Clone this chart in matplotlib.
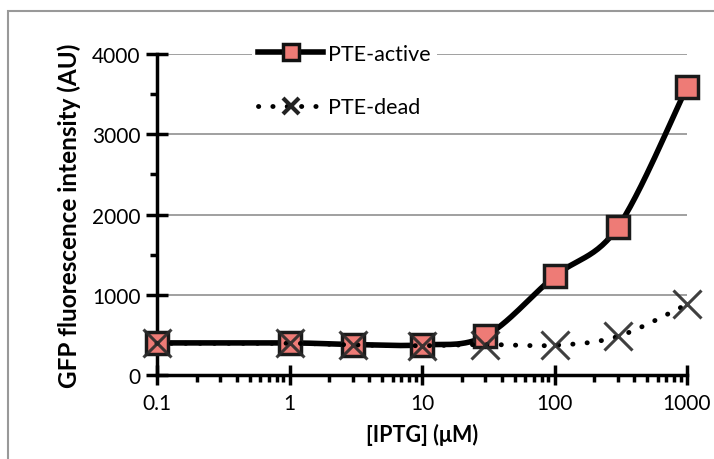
import numpy as np
import matplotlib
matplotlib.use("Agg")
import matplotlib.pyplot as plt
from matplotlib.patches import Rectangle
from matplotlib.ticker import LogLocator, FixedLocator, FixedFormatter, NullFormatter, MultipleLocator

plt.rcParams['font.family'] = ['Lato', 'DejaVu Sans']

iptg = [0.1, 1, 3, 10, 30, 100, 300, 1000]
pte_active = [400, 400, 380, 375, 485, 1230, 1840, 3590]
pte_dead = [395, 395, 375, 365, 380, 370, 480, 880]
xtick_vals = [0.1, 1, 10, 100, 1000]
xtick_labels = ["0.1", "1", "10", "100", "1000"]
ytick_vals = [0, 1000, 2000, 3000, 4000]


def smooth(xs, ys, n=30):
    # Catmull-Rom style smoothing in log-x space (like spreadsheet "smoothed line")
    lx = np.log10(xs)
    y = np.asarray(ys, float)
    px, py = [], []
    for i in range(len(lx) - 1):
        p0 = (lx[max(i - 1, 0)], y[max(i - 1, 0)])
        p1 = (lx[i], y[i])
        p2 = (lx[i + 1], y[i + 1])
        p3 = (lx[min(i + 2, len(lx) - 1)], y[min(i + 2, len(lx) - 1)])
        c1 = (p1[0] + (p2[0] - p0[0]) / 6, p1[1] + (p2[1] - p0[1]) / 6)
        c2 = (p2[0] - (p3[0] - p1[0]) / 6, p2[1] - (p3[1] - p1[1]) / 6)
        t = np.linspace(0, 1, n)
        bx = (1-t)**3*p1[0] + 3*(1-t)**2*t*c1[0] + 3*(1-t)*t**2*c2[0] + t**3*p2[0]
        by = (1-t)**3*p1[1] + 3*(1-t)**2*t*c1[1] + 3*(1-t)*t**2*c2[1] + t**3*p2[1]
        px.extend(bx); py.extend(by)
    return 10**np.array(px), np.array(py)


DOT = (0, (0.05, 2.9))

fig = plt.figure(figsize=(7.14, 4.6), dpi=100)
fig.patches.append(Rectangle((8/714, -0.01), 1, 1.01 - 12/460, transform=fig.transFigure,
                             fill=False, edgecolor='#999999', linewidth=1.5))
ax = fig.add_axes([157/714, 1 - 376/460, 530/714, 321/460])

ax.set_xscale('log')
ax.set_xlim(0.1, 1000)
ax.set_ylim(0, 4000)

for v in ytick_vals[1:]:
    ax.axhline(v, color='#999999', linewidth=1.3, zorder=0)

sx, sy = smooth(iptg, pte_active)
ax.plot(sx, sy, color='black', linewidth=4, zorder=2, clip_on=False)
ax.plot(iptg, pte_active, linestyle='none', marker='s', markersize=16,
        markerfacecolor='#ee7b76', markeredgecolor='#1a1a1a', markeredgewidth=2.5,
        zorder=3, clip_on=False)
sx, sy = smooth(iptg, pte_dead)
ax.plot(sx, sy, color='black', linestyle=DOT, linewidth=3.5,
        dash_capstyle='round', zorder=4, clip_on=False)
ax.plot(iptg, pte_dead, linestyle='none', marker='x', markersize=20,
        markeredgewidth=2.2, color='#2a2a2a', alpha=0.9, zorder=5, clip_on=False)

# legend handles
h1, = ax.plot([], [], color='black', linewidth=4, marker='s', markersize=12,
              markerfacecolor='#ee7b76', markeredgecolor='#111111', markeredgewidth=2.5)
h2, = ax.plot([], [], color='black', linestyle=DOT, linewidth=3.5,
              dash_capstyle='round', marker='x', markersize=11, markeredgewidth=3,
              markeredgecolor='#222222')
leg = ax.legend([h1, h2], ['PTE-active', 'PTE-dead'], loc='upper left',
                bbox_to_anchor=(84/530, 1.085), frameon=True, fancybox=False,
                edgecolor='none', facecolor='white', framealpha=1,
                fontsize=15.5, handlelength=3.0, handletextpad=0.25,
                labelspacing=1.55, borderpad=0.3)
leg.set_zorder(6)

for s in ['top', 'right']:
    ax.spines[s].set_visible(False)
ax.spines['left'].set_linewidth(2.5)
ax.spines['bottom'].set_linewidth(2.5)

ax.xaxis.set_major_locator(FixedLocator(xtick_vals))
ax.xaxis.set_major_formatter(FixedFormatter(xtick_labels))
ax.xaxis.set_minor_locator(LogLocator(base=10, subs=np.arange(2, 10)))
ax.xaxis.set_minor_formatter(NullFormatter())
ax.set_yticks(ytick_vals)
ax.yaxis.set_minor_locator(MultipleLocator(500))
ax.tick_params(axis='x', which='major', direction='inout', length=14, width=2.5,
               labelsize=15, pad=6)
ax.tick_params(axis='x', which='minor', direction='out', length=5, width=2.5)
ax.tick_params(axis='y', which='major', direction='inout', length=16, width=2.5,
               labelsize=15, pad=4)
ax.tick_params(axis='y', which='minor', direction='out', length=5, width=2.5)

ax.set_xlabel('[IPTG] (μM)', fontsize=15.5, fontweight='bold', labelpad=7)
ax.set_ylabel('GFP fluorescence intensity (AU)', fontsize=17.5, fontweight='bold',
              labelpad=8)

fig.savefig('out.png', dpi=100)
